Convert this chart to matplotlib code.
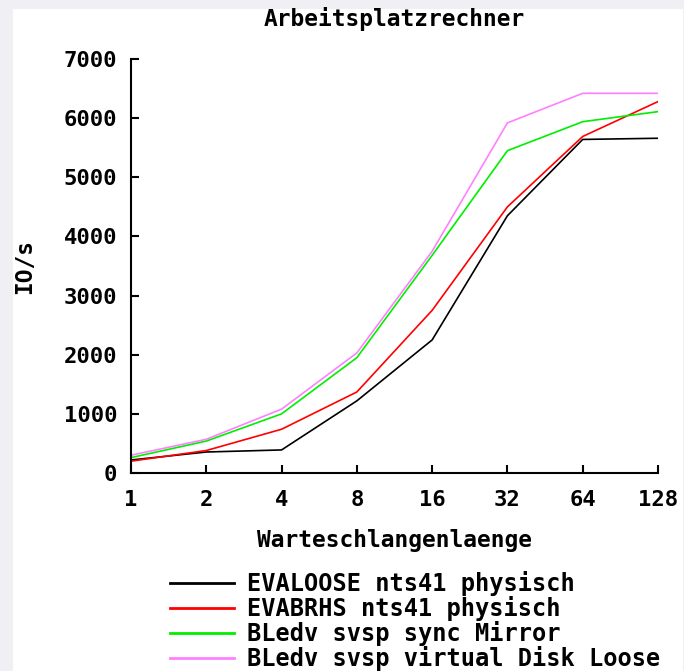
import numpy as np
import matplotlib.pyplot as plt
from matplotlib.patches import Rectangle

# Warteschlangenlaenge (queue depth)
queue = [1, 2, 4, 8, 16, 32, 64, 128]

evaloose = [220, 355, 390, 1220, 2250, 4350, 5640, 5660]
evabrhs = [200, 380, 740, 1370, 2750, 4500, 5690, 6280]
sync_mirror = [260, 540, 1000, 1950, 3680, 5450, 5940, 6110]
virtual_disk = [300, 570, 1080, 2030, 3750, 5920, 6420, 6420]

labels = ['EVALOOSE nts41 physisch', 'EVABRHS nts41 physisch',
          'BLedv svsp sync Mirror', 'BLedv svsp virtual Disk Loose']
colors = ['#000000', '#ff0000', '#00ee00', '#ff80ff']

font = dict(family='DejaVu Sans Mono', weight='bold', size=16.5)

fig = plt.figure(figsize=(6.84, 6.71), dpi=100)
fig.patch.set_facecolor('#efeff4')
# white drawing area inside the grey frame
fig.patches.append(Rectangle((13 / 684, 0), (683 - 13) / 684, 1 - 9 / 671,
                             transform=fig.transFigure, facecolor='white',
                             edgecolor='none', zorder=-10))

ax = fig.add_axes([131 / 684, 1 - 473 / 671, (658 - 131) / 684, (473 - 59) / 671])
ax.patch.set_alpha(0)

for ys, c, lab in zip([evaloose, evabrhs, sync_mirror, virtual_disk], colors, labels):
    ax.plot(queue, ys, color=c, lw=1.2, label=lab)

ax.set_xscale('log', base=2)
ax.set_xlim(1, 128)
ax.set_ylim(0, 7000)
ax.set_xticks(queue)
ax.set_xticklabels([str(q) for q in queue])
ax.minorticks_off()
ax.set_yticks(np.arange(0, 7001, 1000))

for s in ['top', 'right']:
    ax.spines[s].set_visible(False)
for s in ['left', 'bottom']:
    ax.spines[s].set_linewidth(1.5)

ax.tick_params(direction='in', length=6, width=1.5, pad=10)
ax.tick_params(axis='x', pad=12)
for t in ax.get_xticklabels() + ax.get_yticklabels():
    t.set_fontfamily('DejaVu Sans Mono')
    t.set_fontweight('bold')
    t.set_fontsize(16)

ax.set_title('Arbeitsplatzrechner', fontdict=font, pad=24)
ax.set_xlabel('Warteschlangenlaenge', fontdict=font, labelpad=14)
ax.set_ylabel('IO/s', fontdict=font, labelpad=20)

leg = fig.legend(loc='upper left', bbox_to_anchor=(170 / 684, 1 - 571 / 671),
                 frameon=False, prop=dict(family='DejaVu Sans Mono', weight='bold', size=17),
                 handlelength=2.7, handletextpad=0.55, labelspacing=0.0,
                 borderpad=0, borderaxespad=0)
for line in leg.get_lines():
    line.set_linewidth(2)

fig.savefig('out.png', dpi=100, facecolor=fig.get_facecolor())
